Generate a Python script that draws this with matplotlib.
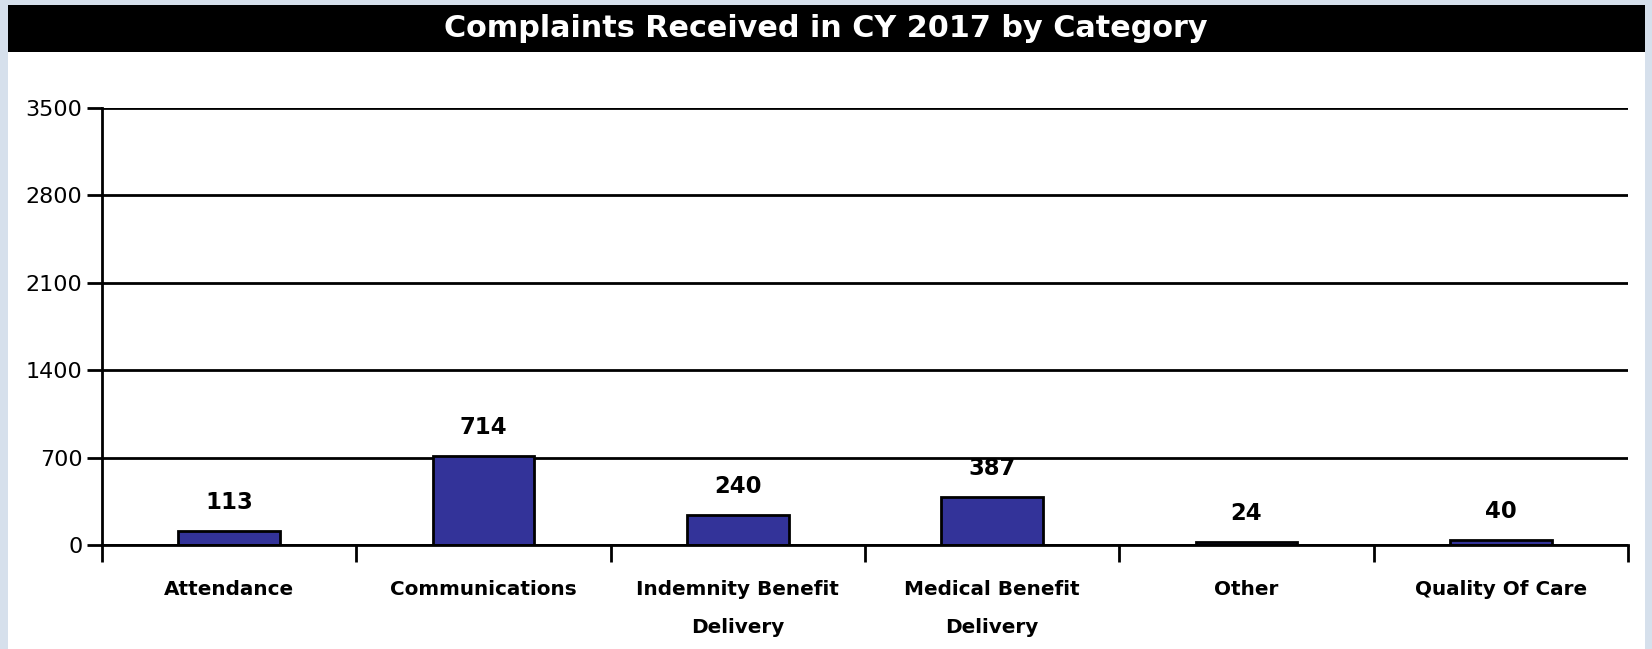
import numpy as np
import matplotlib
matplotlib.use('Agg')
import matplotlib.pyplot as plt
from matplotlib.patches import Rectangle
from matplotlib.ticker import FixedLocator

categories = ['Attendance', 'Communications', 'Indemnity Benefit\nDelivery',
              'Medical Benefit\nDelivery', 'Other', 'Quality Of Care']
complaints = [113, 714, 240, 387, 24, 40]
y_ticks = [0, 700, 1400, 2100, 2800, 3500]
title = 'Complaints Received in CY 2017 by Category'

plt.rcParams['font.family'] = ['DejaVu Sans']

fig = plt.figure(figsize=(16.52, 6.49), dpi=100)
fig.patch.set_facecolor('#d6e0ec')

# white panel and black title band, kept behind the axes
fig.patches.append(Rectangle((0.0048, 0.0), 0.991, 0.9923, transform=fig.transFigure,
                             facecolor='white', edgecolor='none', zorder=-2))
fig.patches.append(Rectangle((0.0048, 0.9199), 0.991, 0.0724, transform=fig.transFigure,
                             facecolor='black', edgecolor='none', zorder=-1))
fig.text(0.5, 0.956, title, color='white', fontsize=21.8, fontweight='bold',
         ha='center', va='center', zorder=2)

ax = fig.add_axes([0.0617, 0.1602, 0.9238, 0.6734])
ax.patch.set_alpha(0)
x = np.arange(len(categories))
bars = ax.bar(x, complaints, width=0.4, color='#333399', edgecolor='black',
              linewidth=2, zorder=2)

for xi, v in zip(x, complaints):
    ax.annotate(str(v), (xi, v), xytext=(0, 12), textcoords='offset points',
                ha='center', va='bottom', fontsize=16.4, fontweight='bold', zorder=0.4)

ax.set_xlim(-0.5, len(categories) - 0.5)
ax.set_ylim(0, 3500)
ax.set_yticks(y_ticks)
ax.yaxis.grid(True, color='black', linewidth=2)
ax.set_axisbelow(True)

ax.set_xticks(x)
ax.set_xticklabels(categories, fontsize=14.4, fontweight='bold', linespacing=2.3)
ax.xaxis.set_minor_locator(FixedLocator(np.arange(len(categories) + 1) - 0.5))
ax.tick_params(axis='x', which='major', length=0, pad=25)
ax.tick_params(axis='x', which='minor', length=12, width=2, direction='out')
ax.tick_params(axis='y', length=11, width=2, labelsize=16, pad=3)

for side in ['top', 'right']:
    ax.spines[side].set_visible(False)
for side in ['left', 'bottom']:
    ax.spines[side].set_linewidth(2)

fig.savefig('out.png', dpi=100)
